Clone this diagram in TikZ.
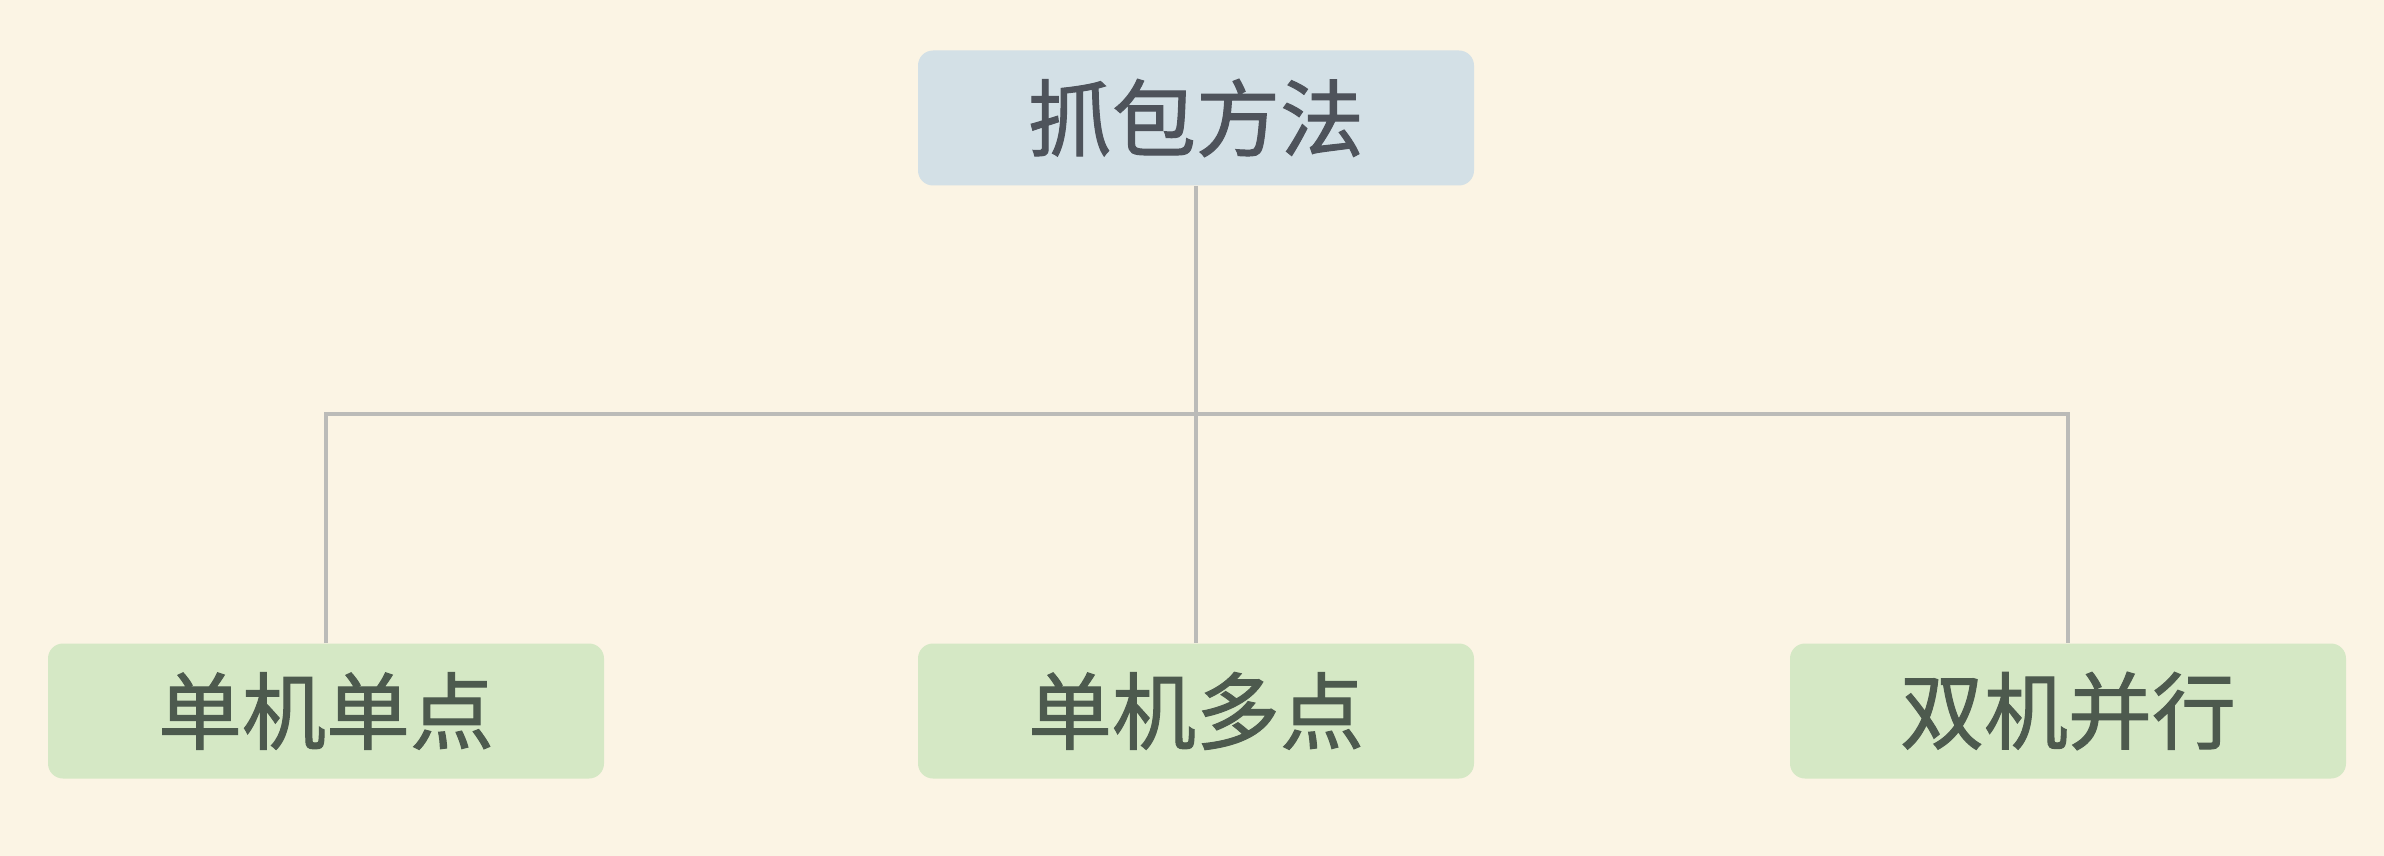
\documentclass[tikz,border=0pt]{standalone}
\usepackage{fontspec}
\newfontfamily\cjk[FakeBold=1.2]{Noto Sans CJK SC}
\definecolor{bgc}{HTML}{FBF4E4}
\definecolor{topfill}{HTML}{D3E0E6}
\definecolor{leaffill}{HTML}{D5E8C5}
\definecolor{toptext}{HTML}{4E535B}
\definecolor{leaftext}{HTML}{4D5A4E}
\definecolor{linec}{HTML}{BBBBB8}
\begin{document}
\begin{tikzpicture}[x=0.5pt,y=-0.5pt,
  box/.style={rounded corners=7.5pt, minimum width=278pt, minimum height=67.5pt, inner sep=0pt, font=\cjk\fontsize{42}{50}\selectfont},
  rootbox/.style={box, fill=topfill, text=toptext},
  leafbox/.style={box, fill=leaffill, text=leaftext},
  conn/.style={draw=linec, line width=2.3pt}]
\fill[bgc] (0,0) rectangle (2384,856);
\useasboundingbox (0,0) rectangle (2384,856);
\node[rootbox] (root) at (1196,118) {抓包方法};
\node[leafbox] (a) at (326,711) {单机单点};
\node[leafbox] (b) at (1196,711) {单机多点};
\node[leafbox] (c) at (2068,711) {双机并行};
\coordinate (bus) at (1196,414);
\draw[conn] (root.south) -- (bus) -- (b.north);
\draw[conn] (a.north) |- (bus) -| (c.north);
\end{tikzpicture}
\end{document}
